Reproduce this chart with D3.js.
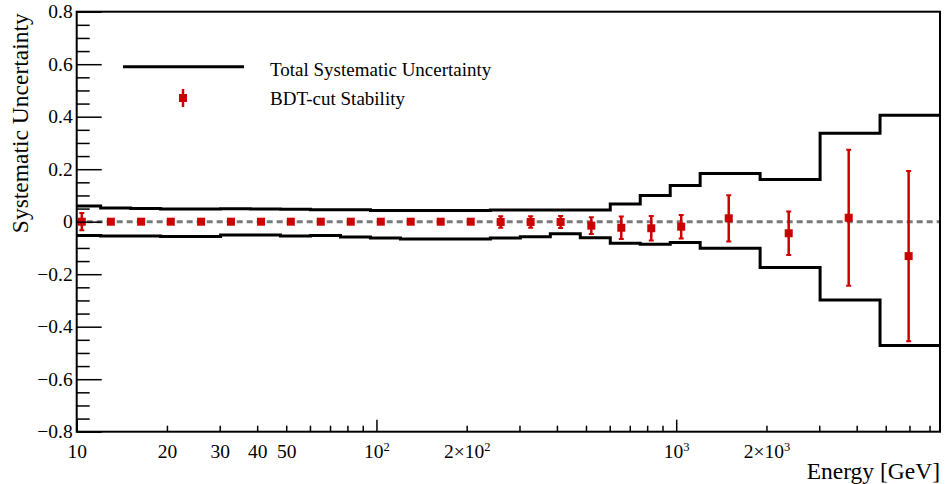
<!DOCTYPE html>
<html>
<head>
<meta charset="utf-8">
<script src="https://cdn.jsdelivr.net/npm/d3@7"></script>
<style>
  html, body { margin: 0; padding: 0; background: #fff; }
  svg { display: block; }
  text { font-family: "Liberation Serif", "Times New Roman", serif; fill: #000; }
</style>
</head>
<body>
<svg id="chart" width="945" height="484"></svg>
<script>
// Energy bin edges in GeV (0.1-decade bins up to ~1.2 TeV, then 0.2-decade bins)
const binEdges = [9.55, 12.02, 15.14, 19.05, 23.99, 30.20, 38.02, 47.86, 60.26, 75.86,
                  95.50, 120.2, 151.4, 190.5, 239.9, 302.0, 380.2, 478.6, 602.6, 758.6,
                  955.0, 1202, 1905, 3020, 4786, 7586];

// Total systematic uncertainty band, one value per bin
const totalUpper = [0.060, 0.052, 0.050, 0.048, 0.048, 0.049, 0.048, 0.047, 0.046, 0.046,
                    0.043, 0.043, 0.043, 0.043, 0.045, 0.045, 0.045, 0.045, 0.067, 0.100,
                    0.138, 0.184, 0.161, 0.337, 0.406];
const totalLower = [-0.053, -0.054, -0.054, -0.056, -0.056, -0.051, -0.051, -0.054, -0.053, -0.058,
                    -0.062, -0.066, -0.066, -0.066, -0.062, -0.057, -0.046, -0.061, -0.082, -0.086,
                    -0.079, -0.101, -0.174, -0.298, -0.472];

// BDT-cut stability points
const pointEnergy = [10.4, 13.0, 16.4, 20.6, 26.0, 32.7, 41.2, 51.8, 65.2, 82.1,
                     103.4, 130.1, 163.8, 206.3, 259.7, 326.9, 411.6, 520.9, 655.8, 825.6,
                     1039, 1497, 2373, 3762, 5962];
const stabilityValue = [0.000, 0.000, 0.000, 0.000, 0.000, 0.000, 0.000, 0.000, 0.000, 0.000,
                        0.000, 0.000, 0.000, 0.000, -0.001, -0.001, -0.001, -0.015, -0.023, -0.025,
                        -0.019, 0.013, -0.044, 0.015, -0.131];
const stabilityError = [0.033, 0.004, 0.004, 0.004, 0.004, 0.004, 0.004, 0.004, 0.005, 0.005,
                        0.005, 0.005, 0.006, 0.006, 0.022, 0.022, 0.023, 0.032, 0.043, 0.047,
                        0.045, 0.088, 0.083, 0.259, 0.324];

// Axis ticks and labels
const xTickValues = [10, 20, 30, 40, 50, 100, 200, 1000, 2000];
const xTickLabels = ["10", "20", "30", "40", "50", "10^2", "2\u00d710^2", "10^3", "2\u00d710^3"];
const yTickValues = [-0.8, -0.6, -0.4, -0.2, 0, 0.2, 0.4, 0.6, 0.8];
const yTickLabels = ["\u22120.8", "\u22120.6", "\u22120.4", "\u22120.2", "0", "0.2", "0.4", "0.6", "0.8"];

const legendLabels = ["Total Systematic Uncertainty", "BDT-cut Stability"];
const xTitle = "Energy [GeV]";
const yTitle = "Systematic Uncertainty";

const RED = "#cc0000";
const SERIF = "'Liberation Serif', 'Times New Roman', serif";
const frame = { left: 76.7, right: 940, top: 11.7, bottom: 431.7 };

const svg = d3.select("#chart");

const x = d3.scaleLog().domain([10, binEdges[binEdges.length - 1]]).range([frame.left, frame.right]);
const y = d3.scaleLinear().domain([-0.8, 0.8]).range([frame.bottom, frame.top]);

svg.append("defs").append("clipPath").attr("id", "plot-clip")
  .append("rect")
  .attr("x", frame.left).attr("y", frame.top)
  .attr("width", frame.right - frame.left).attr("height", frame.bottom - frame.top);

const plot = svg.append("g").attr("clip-path", "url(#plot-clip)");

// Zero reference line
plot.append("line")
  .attr("x1", frame.left).attr("x2", frame.right)
  .attr("y1", y(0)).attr("y2", y(0))
  .attr("stroke", "#7a7a7a").attr("stroke-width", 3)
  .attr("stroke-dasharray", "6,4");

// Step outlines of the systematic band
const step = d3.line().x(d => x(d[0])).y(d => y(d[1])).curve(d3.curveStepAfter);
function stepPoints(vals) {
  const pts = vals.map((v, i) => [binEdges[i], v]);
  pts.push([binEdges[binEdges.length - 1], vals[vals.length - 1]]);
  return pts;
}
[totalUpper, totalLower].forEach(vals => {
  plot.append("path")
    .attr("d", step(stepPoints(vals)))
    .attr("fill", "none").attr("stroke", "#000").attr("stroke-width", 3);
});

// Error bars and markers
const pts = pointEnergy.map((e, i) => ({ e, v: stabilityValue[i], err: stabilityError[i] }));
const pg = plot.append("g");
pg.selectAll("line.err").data(pts).join("line").attr("class", "err")
  .attr("x1", d => x(d.e)).attr("x2", d => x(d.e))
  .attr("y1", d => y(d.v + d.err)).attr("y2", d => y(d.v - d.err))
  .attr("stroke", RED).attr("stroke-width", 2.5);
pg.selectAll("line.capHi").data(pts).join("line").attr("class", "capHi")
  .attr("x1", d => x(d.e) - 2.5).attr("x2", d => x(d.e) + 2.5)
  .attr("y1", d => y(d.v + d.err)).attr("y2", d => y(d.v + d.err))
  .attr("stroke", RED).attr("stroke-width", 2);
pg.selectAll("line.capLo").data(pts).join("line").attr("class", "capLo")
  .attr("x1", d => x(d.e) - 2.5).attr("x2", d => x(d.e) + 2.5)
  .attr("y1", d => y(d.v - d.err)).attr("y2", d => y(d.v - d.err))
  .attr("stroke", RED).attr("stroke-width", 2);
pg.selectAll("rect.mk").data(pts).join("rect").attr("class", "mk")
  .attr("x", d => x(d.e) - 4).attr("y", d => y(d.v) - 4)
  .attr("width", 8).attr("height", 8).attr("fill", RED);

// Axes
const yAxisG = svg.append("g").attr("transform", `translate(${frame.left},0)`);
const yMinor = d3.range(-0.8, 0.8001, 0.05).map(v => +v.toFixed(2))
  .filter(v => !yTickValues.some(t => Math.abs(t - v) < 1e-6));
yAxisG.append("g").call(d3.axisLeft(y).tickValues(yMinor).tickSize(-13).tickFormat(""));
yAxisG.append("g").call(d3.axisLeft(y).tickValues(yTickValues).tickSize(-25).tickFormat(""));
yAxisG.append("g").attr("class", "labels").call(d3.axisLeft(y).tickValues(yTickValues).tickSize(0).tickPadding(4)
  .tickFormat((d, i) => yTickLabels[i]));

const xAxisG = svg.append("g").attr("transform", `translate(0,${frame.bottom})`);
const decades = x.ticks().filter(v => Math.abs(Math.log10(v) - Math.round(Math.log10(v))) < 1e-9);
const xMinor = x.ticks().filter(v => !decades.includes(v));
xAxisG.append("g").call(d3.axisBottom(x).tickValues(xMinor).tickSize(-6).tickFormat(""));
xAxisG.append("g").call(d3.axisBottom(x).tickValues(decades).tickSize(-12).tickFormat(""));
const xLab = xAxisG.append("g").attr("class", "labels").call(d3.axisBottom(x).tickValues(xTickValues).tickSize(0).tickPadding(12.5)
  .tickFormat((d, i) => xTickLabels[i]));

[yAxisG, xAxisG].forEach(g => {
  g.selectAll(".domain").remove();
  g.selectAll(".tick line").attr("stroke", "#000").attr("stroke-width", 1.5);
  g.selectAll("g.labels").attr("font-family", SERIF).attr("font-size", 19.5);
  g.selectAll("text").attr("font-family", SERIF).attr("font-size", 19.5)
    .style("font-family", SERIF).style("font-size", "19.5px").attr("fill", "#000");
});

// Render "a^b" labels with superscripts
xLab.selectAll("text").each(function () {
  const t = d3.select(this);
  const s = t.text();
  if (s.includes("^")) {
    const [base, exp] = s.split("^");
    t.text(null);
    t.append("tspan").text(base);
    t.append("tspan").text(exp).attr("dy", "-7").style("font-size", "12.5px");
  }
});

// Frame
svg.append("rect")
  .attr("x", frame.left).attr("y", frame.top)
  .attr("width", frame.right - frame.left).attr("height", frame.bottom - frame.top)
  .attr("fill", "none").attr("stroke", "#000").attr("stroke-width", 2);

// Titles
svg.append("text")
  .attr("x", frame.right).attr("y", 478.5)
  .attr("text-anchor", "end").style("font-size", "23.5px")
  .text(xTitle);
svg.append("text")
  .attr("transform", `translate(27.5,${frame.top + 1.5}) rotate(-90)`)
  .attr("text-anchor", "end").style("font-size", "23.5px")
  .text(yTitle);

// Legend
const leg = svg.append("g");
leg.append("line").attr("x1", 123).attr("x2", 244).attr("y1", 66.7).attr("y2", 66.7)
  .attr("stroke", "#000").attr("stroke-width", 3);
leg.append("line").attr("x1", 183).attr("x2", 183).attr("y1", 89).attr("y2", 107)
  .attr("stroke", RED).attr("stroke-width", 2.5);
leg.append("rect").attr("x", 179).attr("y", 94).attr("width", 8).attr("height", 8).attr("fill", RED);
leg.append("text").attr("x", 270).attr("y", 75.5).style("font-size", "19px").text(legendLabels[0]);
leg.append("text").attr("x", 270).attr("y", 105).style("font-size", "19px").text(legendLabels[1]);
</script>
</body>
</html>
